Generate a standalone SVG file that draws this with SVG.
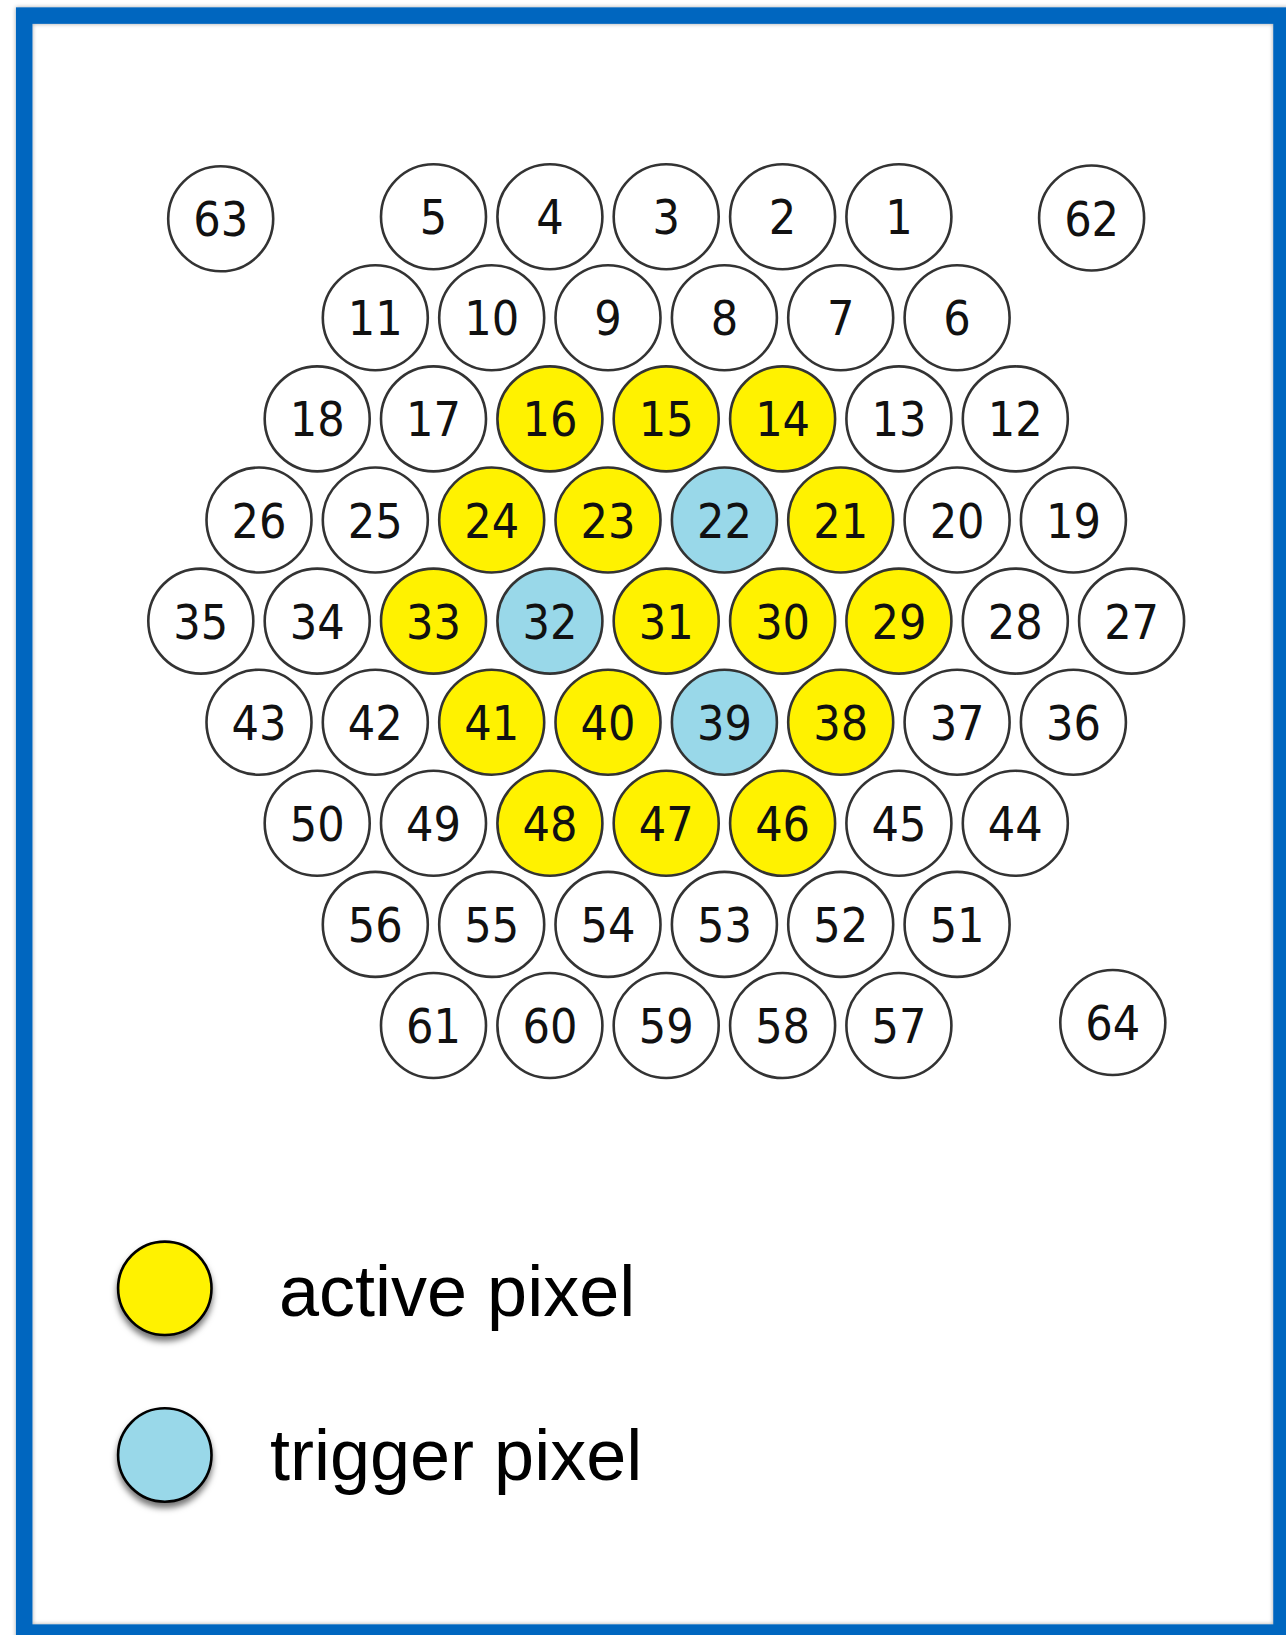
<svg xmlns="http://www.w3.org/2000/svg" width="1286" height="1635" viewBox="0 0 1286 1635">
<defs>
<style>
.px{fill:#ffffff;stroke:#333333;stroke-width:2.6}
.act{fill:#fff200;stroke:#333333;stroke-width:2.6}
.trg{fill:#99d8e9;stroke:#333333;stroke-width:2.6}
.lbl{font-family:"DejaVu Sans Condensed","DejaVu Sans",Verdana,sans-serif;font-stretch:condensed;font-size:48px;fill:#111111;text-anchor:middle}
.leg{font-family:"Liberation Sans",Arial,Helvetica,sans-serif;font-size:72px;fill:#000000}
.legc{stroke:#000000;stroke-width:2.6}
</style>
<filter id="sh" x="-30%" y="-30%" width="160%" height="170%">
<feDropShadow dx="0" dy="5" stdDeviation="3" flood-color="#000000" flood-opacity="0.55"/>
</filter>
<filter id="fsh" x="-5%" y="-5%" width="110%" height="110%">
<feDropShadow dx="0" dy="0" stdDeviation="2" flood-color="#000000" flood-opacity="0.35"/>
</filter>
</defs>
<rect x="0" y="0" width="1286" height="1635" fill="#ffffff"/>
<g id="frame">
<rect x="24.2" y="15.6" width="1257.3" height="1617" fill="none" stroke="#0566bf" stroke-width="16.5" filter="url(#fsh)"/>
</g>
<g id="connectors"/>
<g id="pixels">
<g id="p63"><circle class="px" cx="220.7" cy="218.8" r="52.5"/><text class="lbl" x="220.7" y="236.3">63</text></g>
<g id="p62"><circle class="px" cx="1091.6" cy="218" r="52.5"/><text class="lbl" x="1091.6" y="235.5">62</text></g>
<g id="p64"><circle class="px" cx="1112.8" cy="1022.5" r="52.5"/><text class="lbl" x="1112.8" y="1040">64</text></g>

<g id="p5"><circle class="px" cx="433.5" cy="216.7" r="52.5"/><text class="lbl" x="433.5" y="234.2">5</text></g>
<g id="p4"><circle class="px" cx="549.9" cy="216.7" r="52.5"/><text class="lbl" x="549.9" y="234.2">4</text></g>
<g id="p3"><circle class="px" cx="666.2" cy="216.7" r="52.5"/><text class="lbl" x="666.2" y="234.2">3</text></g>
<g id="p2"><circle class="px" cx="782.6" cy="216.7" r="52.5"/><text class="lbl" x="782.6" y="234.2">2</text></g>
<g id="p1"><circle class="px" cx="898.9" cy="216.7" r="52.5"/><text class="lbl" x="898.9" y="234.2">1</text></g>

<g id="p11"><circle class="px" cx="375.3" cy="317.8" r="52.5"/><text class="lbl" x="375.3" y="335.3">11</text></g>
<g id="p10"><circle class="px" cx="491.7" cy="317.8" r="52.5"/><text class="lbl" x="491.7" y="335.3">10</text></g>
<g id="p9"><circle class="px" cx="608" cy="317.8" r="52.5"/><text class="lbl" x="608" y="335.3">9</text></g>
<g id="p8"><circle class="px" cx="724.4" cy="317.8" r="52.5"/><text class="lbl" x="724.4" y="335.3">8</text></g>
<g id="p7"><circle class="px" cx="840.7" cy="317.8" r="52.5"/><text class="lbl" x="840.7" y="335.3">7</text></g>
<g id="p6"><circle class="px" cx="957.1" cy="317.8" r="52.5"/><text class="lbl" x="957.1" y="335.3">6</text></g>

<g id="p18"><circle class="px" cx="317.2" cy="418.9" r="52.5"/><text class="lbl" x="317.2" y="436.4">18</text></g>
<g id="p17"><circle class="px" cx="433.5" cy="418.9" r="52.5"/><text class="lbl" x="433.5" y="436.4">17</text></g>
<g id="p16"><circle class="act" cx="549.9" cy="418.9" r="52.5"/><text class="lbl" x="549.9" y="436.4">16</text></g>
<g id="p15"><circle class="act" cx="666.2" cy="418.9" r="52.5"/><text class="lbl" x="666.2" y="436.4">15</text></g>
<g id="p14"><circle class="act" cx="782.6" cy="418.9" r="52.5"/><text class="lbl" x="782.6" y="436.4">14</text></g>
<g id="p13"><circle class="px" cx="898.9" cy="418.9" r="52.5"/><text class="lbl" x="898.9" y="436.4">13</text></g>
<g id="p12"><circle class="px" cx="1015.3" cy="418.9" r="52.5"/><text class="lbl" x="1015.3" y="436.4">12</text></g>

<g id="p26"><circle class="px" cx="259" cy="520" r="52.5"/><text class="lbl" x="259" y="537.5">26</text></g>
<g id="p25"><circle class="px" cx="375.3" cy="520" r="52.5"/><text class="lbl" x="375.3" y="537.5">25</text></g>
<g id="p24"><circle class="act" cx="491.7" cy="520" r="52.5"/><text class="lbl" x="491.7" y="537.5">24</text></g>
<g id="p23"><circle class="act" cx="608" cy="520" r="52.5"/><text class="lbl" x="608" y="537.5">23</text></g>
<g id="p22"><circle class="trg" cx="724.4" cy="520" r="52.5"/><text class="lbl" x="724.4" y="537.5">22</text></g>
<g id="p21"><circle class="act" cx="840.7" cy="520" r="52.5"/><text class="lbl" x="840.7" y="537.5">21</text></g>
<g id="p20"><circle class="px" cx="957.1" cy="520" r="52.5"/><text class="lbl" x="957.1" y="537.5">20</text></g>
<g id="p19"><circle class="px" cx="1073.4" cy="520" r="52.5"/><text class="lbl" x="1073.4" y="537.5">19</text></g>

<g id="p35"><circle class="px" cx="200.8" cy="621.1" r="52.5"/><text class="lbl" x="200.8" y="638.6">35</text></g>
<g id="p34"><circle class="px" cx="317.2" cy="621.1" r="52.5"/><text class="lbl" x="317.2" y="638.6">34</text></g>
<g id="p33"><circle class="act" cx="433.5" cy="621.1" r="52.5"/><text class="lbl" x="433.5" y="638.6">33</text></g>
<g id="p32"><circle class="trg" cx="549.9" cy="621.1" r="52.5"/><text class="lbl" x="549.9" y="638.6">32</text></g>
<g id="p31"><circle class="act" cx="666.2" cy="621.1" r="52.5"/><text class="lbl" x="666.2" y="638.6">31</text></g>
<g id="p30"><circle class="act" cx="782.6" cy="621.1" r="52.5"/><text class="lbl" x="782.6" y="638.6">30</text></g>
<g id="p29"><circle class="act" cx="898.9" cy="621.1" r="52.5"/><text class="lbl" x="898.9" y="638.6">29</text></g>
<g id="p28"><circle class="px" cx="1015.3" cy="621.1" r="52.5"/><text class="lbl" x="1015.3" y="638.6">28</text></g>
<g id="p27"><circle class="px" cx="1131.6" cy="621.1" r="52.5"/><text class="lbl" x="1131.6" y="638.6">27</text></g>

<g id="p43"><circle class="px" cx="259" cy="722.2" r="52.5"/><text class="lbl" x="259" y="739.7">43</text></g>
<g id="p42"><circle class="px" cx="375.3" cy="722.2" r="52.5"/><text class="lbl" x="375.3" y="739.7">42</text></g>
<g id="p41"><circle class="act" cx="491.7" cy="722.2" r="52.5"/><text class="lbl" x="491.7" y="739.7">41</text></g>
<g id="p40"><circle class="act" cx="608" cy="722.2" r="52.5"/><text class="lbl" x="608" y="739.7">40</text></g>
<g id="p39"><circle class="trg" cx="724.4" cy="722.2" r="52.5"/><text class="lbl" x="724.4" y="739.7">39</text></g>
<g id="p38"><circle class="act" cx="840.7" cy="722.2" r="52.5"/><text class="lbl" x="840.7" y="739.7">38</text></g>
<g id="p37"><circle class="px" cx="957.1" cy="722.2" r="52.5"/><text class="lbl" x="957.1" y="739.7">37</text></g>
<g id="p36"><circle class="px" cx="1073.4" cy="722.2" r="52.5"/><text class="lbl" x="1073.4" y="739.7">36</text></g>

<g id="p50"><circle class="px" cx="317.2" cy="823.3" r="52.5"/><text class="lbl" x="317.2" y="840.8">50</text></g>
<g id="p49"><circle class="px" cx="433.5" cy="823.3" r="52.5"/><text class="lbl" x="433.5" y="840.8">49</text></g>
<g id="p48"><circle class="act" cx="549.9" cy="823.3" r="52.5"/><text class="lbl" x="549.9" y="840.8">48</text></g>
<g id="p47"><circle class="act" cx="666.2" cy="823.3" r="52.5"/><text class="lbl" x="666.2" y="840.8">47</text></g>
<g id="p46"><circle class="act" cx="782.6" cy="823.3" r="52.5"/><text class="lbl" x="782.6" y="840.8">46</text></g>
<g id="p45"><circle class="px" cx="898.9" cy="823.3" r="52.5"/><text class="lbl" x="898.9" y="840.8">45</text></g>
<g id="p44"><circle class="px" cx="1015.3" cy="823.3" r="52.5"/><text class="lbl" x="1015.3" y="840.8">44</text></g>

<g id="p56"><circle class="px" cx="375.3" cy="924.4" r="52.5"/><text class="lbl" x="375.3" y="941.9">56</text></g>
<g id="p55"><circle class="px" cx="491.7" cy="924.4" r="52.5"/><text class="lbl" x="491.7" y="941.9">55</text></g>
<g id="p54"><circle class="px" cx="608" cy="924.4" r="52.5"/><text class="lbl" x="608" y="941.9">54</text></g>
<g id="p53"><circle class="px" cx="724.4" cy="924.4" r="52.5"/><text class="lbl" x="724.4" y="941.9">53</text></g>
<g id="p52"><circle class="px" cx="840.7" cy="924.4" r="52.5"/><text class="lbl" x="840.7" y="941.9">52</text></g>
<g id="p51"><circle class="px" cx="957.1" cy="924.4" r="52.5"/><text class="lbl" x="957.1" y="941.9">51</text></g>

<g id="p61"><circle class="px" cx="433.5" cy="1025.5" r="52.5"/><text class="lbl" x="433.5" y="1043">61</text></g>
<g id="p60"><circle class="px" cx="549.9" cy="1025.5" r="52.5"/><text class="lbl" x="549.9" y="1043">60</text></g>
<g id="p59"><circle class="px" cx="666.2" cy="1025.5" r="52.5"/><text class="lbl" x="666.2" y="1043">59</text></g>
<g id="p58"><circle class="px" cx="782.6" cy="1025.5" r="52.5"/><text class="lbl" x="782.6" y="1043">58</text></g>
<g id="p57"><circle class="px" cx="898.9" cy="1025.5" r="52.5"/><text class="lbl" x="898.9" y="1043">57</text></g>
</g>
<g id="legend">
<g id="legend-active"><circle class="legc" cx="164.8" cy="1288.3" r="46.7" fill="#fff200" filter="url(#sh)"/><text class="leg" x="279" y="1316">active pixel</text></g>
<g id="legend-trigger"><circle class="legc" cx="164.8" cy="1455" r="46.7" fill="#99d8e9" filter="url(#sh)"/><text class="leg" x="270" y="1480">trigger pixel</text></g>
</g>
</svg>
